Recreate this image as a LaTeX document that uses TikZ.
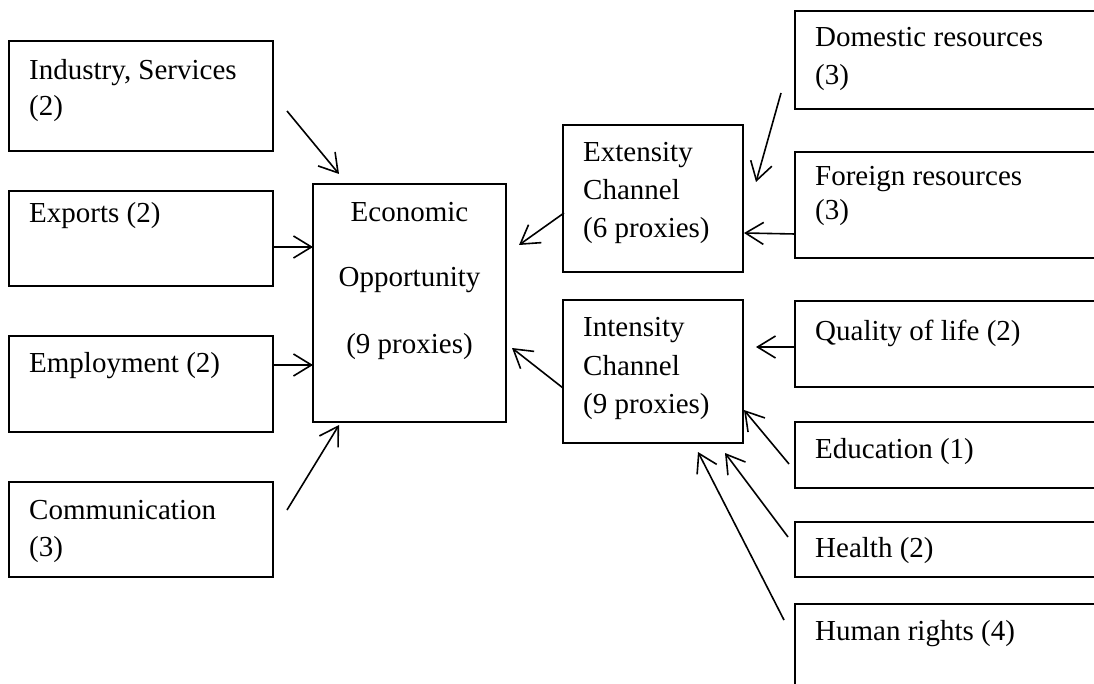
\documentclass[tikz,border=0pt]{standalone}
\usepackage{fontspec}
\setmainfont{Liberation Serif}
\usetikzlibrary{arrows.meta,calc}
\begin{document}
\begin{tikzpicture}[x=1pt,y=-1pt,
  box/.style={draw, line width=1.3pt, inner sep=0pt, outer sep=0pt, anchor=north west},
  txt/.style={inner sep=0pt, anchor=base west, font=\fontsize{29}{37}\selectfont},
  ctxt/.style={inner sep=0pt, anchor=base, font=\fontsize{29}{37}\selectfont},
  arr/.style={line width=1.6pt, -{Straight Barb[length=18pt,width=22pt]}}]
\clip (0,0) rectangle (1094,684);
\fill[white] (0,0) rectangle (1094,684);
% left column
\node[box, minimum width=264pt, minimum height=110pt] (ind) at (9,41) {};
\node[box, minimum width=264pt, minimum height=95pt] (exp) at (9,191) {};
\node[box, minimum width=264pt, minimum height=96pt] (emp) at (9,336) {};
\node[box, minimum width=264pt, minimum height=95pt] (com) at (9,482) {};
% centre
\node[box, minimum width=193pt, minimum height=238pt] (econ) at (313,184) {};
\node[box, minimum width=180pt, minimum height=147pt] (ext) at (563,125) {};
\node[box, minimum width=180pt, minimum height=143pt] (int) at (563,300) {};
% right column
\node[box, minimum width=330pt, minimum height=98pt] (dom) at (795,11) {};
\node[box, minimum width=330pt, minimum height=106pt] (for) at (795,152) {};
\node[box, minimum width=330pt, minimum height=86pt] (qual) at (795,301) {};
\node[box, minimum width=330pt, minimum height=66pt] (edu) at (795,422) {};
\node[box, minimum width=330pt, minimum height=55pt] (hea) at (795,522) {};
\node[box, minimum width=330pt, minimum height=120pt] (hum) at (795,604) {};
% texts
\node[txt] (t1) at ($(ind.north west)+(20,39)$) {Industry, Services};
\node[txt] (t2) at ($(ind.north west)+(20,75)$) {(2)};
\node[txt] (t3) at ($(exp.north west)+(20,32)$) {Exports (2)};
\node[txt] (t4) at ($(emp.north west)+(20,36)$) {Employment (2)};
\node[txt] (t5) at ($(com.north west)+(20,37)$) {Communication};
\node[txt] (t6) at ($(com.north west)+(20,74)$) {(3)};
\node[ctxt] (t7) at ($(econ.north)+(0,38)$) {Economic};
\node[ctxt] (t8) at ($(econ.north)+(0,103)$) {Opportunity};
\node[ctxt] (t9) at ($(econ.north)+(0,169)$) {(9 proxies)};
\node[txt] (t10) at ($(ext.north west)+(20,37)$) {Extensity};
\node[txt] (t11) at ($(ext.north west)+(20,75)$) {Channel};
\node[txt] (t12) at ($(ext.north west)+(20,113)$) {(6 proxies)};
\node[txt] (t13) at ($(int.north west)+(20,37)$) {Intensity};
\node[txt] (t14) at ($(int.north west)+(20,75)$) {Channel};
\node[txt] (t15) at ($(int.north west)+(20,113)$) {(9 proxies)};
\node[txt] (t16) at ($(dom.north west)+(20,36)$) {Domestic resources};
\node[txt] (t17) at ($(dom.north west)+(20,74)$) {(3)};
\node[txt] (t18) at ($(for.north west)+(20,34)$) {Foreign resources};
\node[txt] (t19) at ($(for.north west)+(20,68)$) {(3)};
\node[txt] (t20) at ($(qual.north west)+(20,39)$) {Quality of life (2)};
\node[txt] (t21) at ($(edu.north west)+(20,36)$) {Education (1)};
\node[txt] (t22) at ($(hea.north west)+(20,35)$) {Health (2)};
\node[txt] (t23) at ($(hum.north west)+(20,36)$) {Human rights (4)};
% connectors
\draw[arr] ($(ind.north west)+(278,70)$) -- ($(econ.north west)+(26,-10)$);
\draw[arr] ($(exp.north east)+(0,56)$) -- ($(econ.north west)+(0,63)$);
\draw[arr] ($(emp.north east)+(0,29)$) -- ($(econ.north west)+(0,181)$);
\draw[arr] ($(com.north west)+(278,28)$) -- ($(econ.north west)+(26,241)$);
\draw[arr] ($(ext.north west)+(1,88)$) -- ($(econ.north west)+(206,61)$);
\draw[arr] ($(int.north west)+(0,88)$) -- ($(econ.north west)+(199,164)$);
\draw[arr] ($(dom.north west)+(-14,82)$) -- ($(ext.north west)+(193,57)$);
\draw[arr] ($(for.north west)+(0,82)$) -- ($(ext.north west)+(181,108)$);
\draw[arr] ($(qual.north west)+(0,46)$) -- ($(int.north west)+(193,47)$);
\draw[arr] ($(edu.north west)+(-6,42)$) -- ($(int.north west)+(181,110)$);
\draw[arr] ($(hea.north west)+(-7,15)$) -- ($(int.north west)+(162,153)$);
\draw[arr] ($(hum.north west)+(-11,16)$) -- ($(int.north west)+(135,152)$);
\end{tikzpicture}
\end{document}
